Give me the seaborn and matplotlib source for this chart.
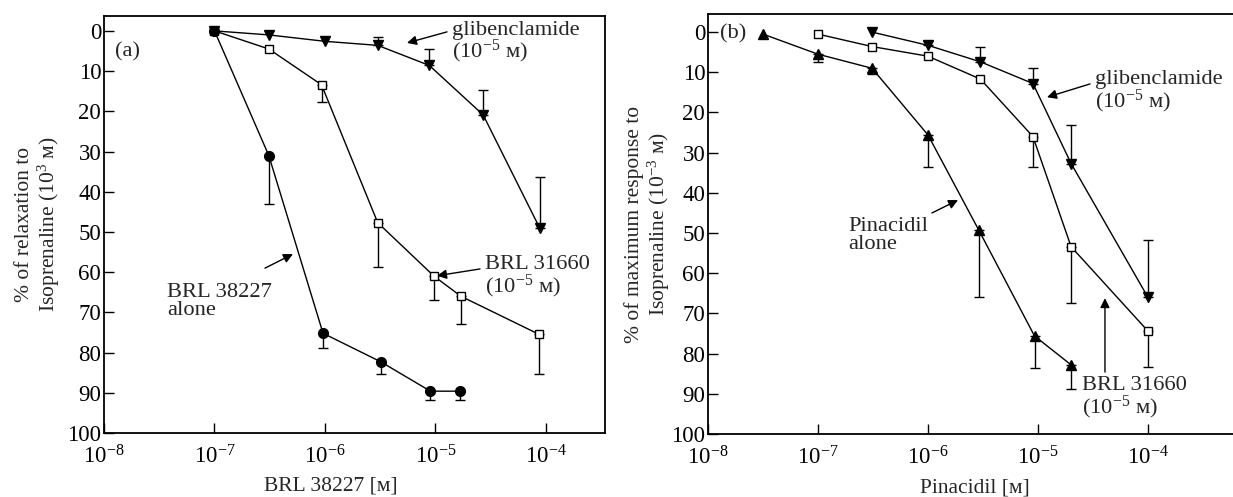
import numpy as np
import pandas as pd
import matplotlib
matplotlib.use("Agg")
import matplotlib.pyplot as plt
import seaborn as sns
from matplotlib.ticker import FixedLocator, NullLocator, FixedFormatter

# ---------------- data: panel (a) ----------------
a_alone_x = [1e-7, 3.1e-7, 9.6e-7, 3.2e-6, 9.0e-6, 1.66e-5]
a_alone_y = [0, 31.0, 75.2, 82.3, 89.6, 89.6]
a_alone_err = [0, 12.0, 3.7, 3.0, 2.2, 2.2]          # towards larger values

a_brl_x = [1e-7, 3.1e-7, 9.3e-7, 3.0e-6, 9.7e-6, 1.7e-5, 8.7e-5]
a_brl_y = [0, 4.5, 13.4, 47.7, 61.0, 66.0, 75.5]
a_brl_err = [0, 0, 4.2, 11.0, 6.0, 7.0, 9.8]         # towards larger values

a_gli_x = [1e-7, 3.1e-7, 1.0e-6, 3.0e-6, 8.8e-6, 2.7e-5, 8.8e-5]
a_gli_y = [0, 1.0, 2.6, 3.6, 8.6, 20.9, 49.1]
a_gli_err = [0, 0, 0, 2.2, 4.0, 6.2, 12.8]           # towards smaller values

# ---------------- data: panel (b) ----------------
b_alone_x = [3.16e-8, 1e-7, 3.1e-7, 1.0e-6, 2.9e-6, 9.3e-6, 2.0e-5]
b_alone_y = [0.5, 5.5, 9.0, 25.6, 49.3, 75.6, 82.8]
b_alone_err = [0, 2.0, 1.5, 8.0, 16.7, 8.0, 6.0]     # towards larger values

b_brl_x = [1e-7, 3.1e-7, 1.0e-6, 3.0e-6, 9.0e-6, 2.0e-5, 1.0e-4]
b_brl_y = [0.5, 3.6, 6.0, 11.7, 26.0, 53.4, 74.4]
b_brl_err = [0, 0, 0, 0, 7.5, 14.0, 9.0]             # towards larger values

b_gli_x = [3.1e-7, 1.0e-6, 3.0e-6, 9.0e-6, 2.0e-5, 1.0e-4]
b_gli_y = [0, 3.3, 7.4, 12.8, 32.7, 66.0]
b_gli_err = [0, 1.0, 3.8, 3.8, 9.7, 14.3]            # towards smaller values

y_ticks = [0, 10, 20, 30, 40, 50, 60, 70, 80, 90, 100]
x_ticks = [1e-8, 1e-7, 1e-6, 1e-5, 1e-4]
x_ticklabels = [r"$\mathregular{10^{-8}}$", r"$\mathregular{10^{-7}}$",
                r"$\mathregular{10^{-6}}$", r"$\mathregular{10^{-5}}$",
                r"$\mathregular{10^{-4}}$"]

# ---------------- style ----------------
sns.set_style("ticks")
plt.rcParams["font.family"] = ["Liberation Serif", "DejaVu Serif"]
plt.rcParams["mathtext.fontset"] = "custom"
plt.rcParams["mathtext.rm"] = "Liberation Serif"
plt.rcParams["mathtext.it"] = "Liberation Serif:italic"
plt.rcParams["mathtext.bf"] = "Liberation Serif:bold"

FS = 16.2
TFS = 16.5
LFS = 15.5
fig = plt.figure(figsize=(12.33, 4.97), dpi=100)
W, H = 1233.0, 497.0
ax_a = fig.add_axes([104 / W, 1 - 433 / H, (605 - 104) / W, (433 - 16) / H])
ax_b = fig.add_axes([708 / W, 1 - 434 / H, (1233 - 708) / W, (434 - 14) / H])


def series(ax, x, y, err, towards_large, marker, face, ms):
    df = pd.DataFrame({"x": x, "y": y})
    sns.lineplot(data=df, x="x", y="y", ax=ax, color="black", lw=1.0,
                 marker=marker, markersize=ms, markerfacecolor=face,
                 markeredgecolor="black", markeredgewidth=1.0,
                 estimator=None, sort=False, zorder=3, legend=False)
    xs = [xi for xi, e in zip(x, err) if e > 0]
    ys = [yi for yi, e in zip(y, err) if e > 0]
    es = [e for e in err if e > 0]
    zeros = [0] * len(es)
    yerr = [zeros, es] if towards_large else [es, zeros]
    ax.errorbar(xs, ys, yerr=yerr, fmt="none", ecolor="black",
                elinewidth=1.0, capsize=3.5, capthick=1.0, zorder=2)


def style_axes(ax, xmax, ytop, xlabel, ylabel, show_right):
    ax.set_xscale("log")
    ax.set_xlim(1e-8, xmax)
    ax.set_ylim(100, ytop)
    ax.xaxis.set_major_locator(FixedLocator(x_ticks))
    ax.xaxis.set_major_formatter(FixedFormatter(x_ticklabels))
    ax.xaxis.set_minor_locator(NullLocator())
    ax.yaxis.set_major_locator(FixedLocator(y_ticks))
    ax.yaxis.set_minor_locator(NullLocator())
    ax.tick_params(axis="both", direction="in", length=7, width=1.0,
                   labelsize=TFS, color="black", labelcolor="black")
    ax.tick_params(axis="y", pad=2)
    ax.tick_params(axis="x", pad=9)
    for s in ["left", "bottom", "top", "right"]:
        ax.spines[s].set_linewidth(1.3)
        ax.spines[s].set_color("black")
    ax.spines["right"].set_visible(show_right)
    ax.spines["top"].set_visible(True)
    ax.set_xlabel(xlabel, fontsize=LFS)
    ax.set_ylabel(ylabel, fontsize=LFS, linespacing=1.1)


def arrow(ax, tail, tip):
    ax.annotate("", xy=tip, xytext=tail,
                arrowprops=dict(arrowstyle="-|>", color="black", lw=1.0,
                                mutation_scale=14, shrinkA=0, shrinkB=0))


# ---------------- panel (a) ----------------
series(ax_a, a_gli_x, a_gli_y, a_gli_err, False, "v", "black", 7.5)
series(ax_a, a_brl_x, a_brl_y, a_brl_err, True, "s", "white", 5.5)
series(ax_a, a_alone_x, a_alone_y, a_alone_err, True, "o", "black", 7)
style_axes(ax_a, 10 ** -3.466, -3.7, "BRL 38227 [м]",
           "% of relaxation to\nIsoprenaline (10$^{3}$ м)", True)
ax_a.xaxis.set_label_coords(0.453, -0.105)
ax_a.yaxis.set_label_coords(-0.083, 0.5)

ax_a.text(10 ** -7.90, 5.2, "(a)", fontsize=FS, ha="left", va="center")
ax_a.text(10 ** -4.85, 3.0, "glibenclamide\n(10$^{-5}$ м)", fontsize=FS,
          ha="left", va="center", linespacing=0.92)
arrow(ax_a, (10 ** -4.896, 0.25), (10 ** -5.258, 3.0))
ax_a.text(10 ** -4.552, 61.4, "BRL 31660\n(10$^{-5}$ м)", fontsize=FS,
          ha="left", va="center", linespacing=0.92)
arrow(ax_a, (10 ** -4.597, 59.2), (10 ** -4.986, 60.9))
ax_a.text(10 ** -7.43, 67.4, "BRL 38227\nalone", fontsize=FS,
          ha="left", va="center", linespacing=0.92)
arrow(ax_a, (10 ** -6.543, 59.0), (10 ** -6.29, 55.5))

# ---------------- panel (b) ----------------
series(ax_b, b_gli_x, b_gli_y, b_gli_err, False, "v", "black", 7.5)
series(ax_b, b_brl_x, b_brl_y, b_brl_err, True, "s", "white", 5.5)
series(ax_b, b_alone_x, b_alone_y, b_alone_err, True, "^", "black", 7.5)
style_axes(ax_b, 10 ** -3.227, -4.5, "Pinacidil [м]",
           "% of maximum response to\nIsoprenaline (10$^{-3}$ м)", False)
ax_b.xaxis.set_label_coords(0.509, -0.105)
ax_b.yaxis.set_label_coords(-0.068, 0.5)

ax_b.text(10 ** -7.891, 0.5, "(b)", fontsize=FS, ha="left", va="center")
ax_b.text(10 ** -4.482, 15.0, "glibenclamide\n(10$^{-5}$ м)", fontsize=FS,
          ha="left", va="center", linespacing=0.92)
arrow(ax_b, (10 ** -4.527, 12.9), (10 ** -4.918, 16.2))
ax_b.text(10 ** -6.727, 50.6, "Pinacidil\nalone", fontsize=FS,
          ha="left", va="center", linespacing=0.92)
arrow(ax_b, (10 ** -5.964, 45.0), (10 ** -5.727, 41.8))
ax_b.text(10 ** -4.6, 91.2, "BRL 31660\n(10$^{-5}$ м)", fontsize=FS,
          ha="left", va="center", linespacing=0.92)
arrow(ax_b, (10 ** -4.391, 84.6), (10 ** -4.391, 66.2))

fig.savefig("out.png", dpi=100)
